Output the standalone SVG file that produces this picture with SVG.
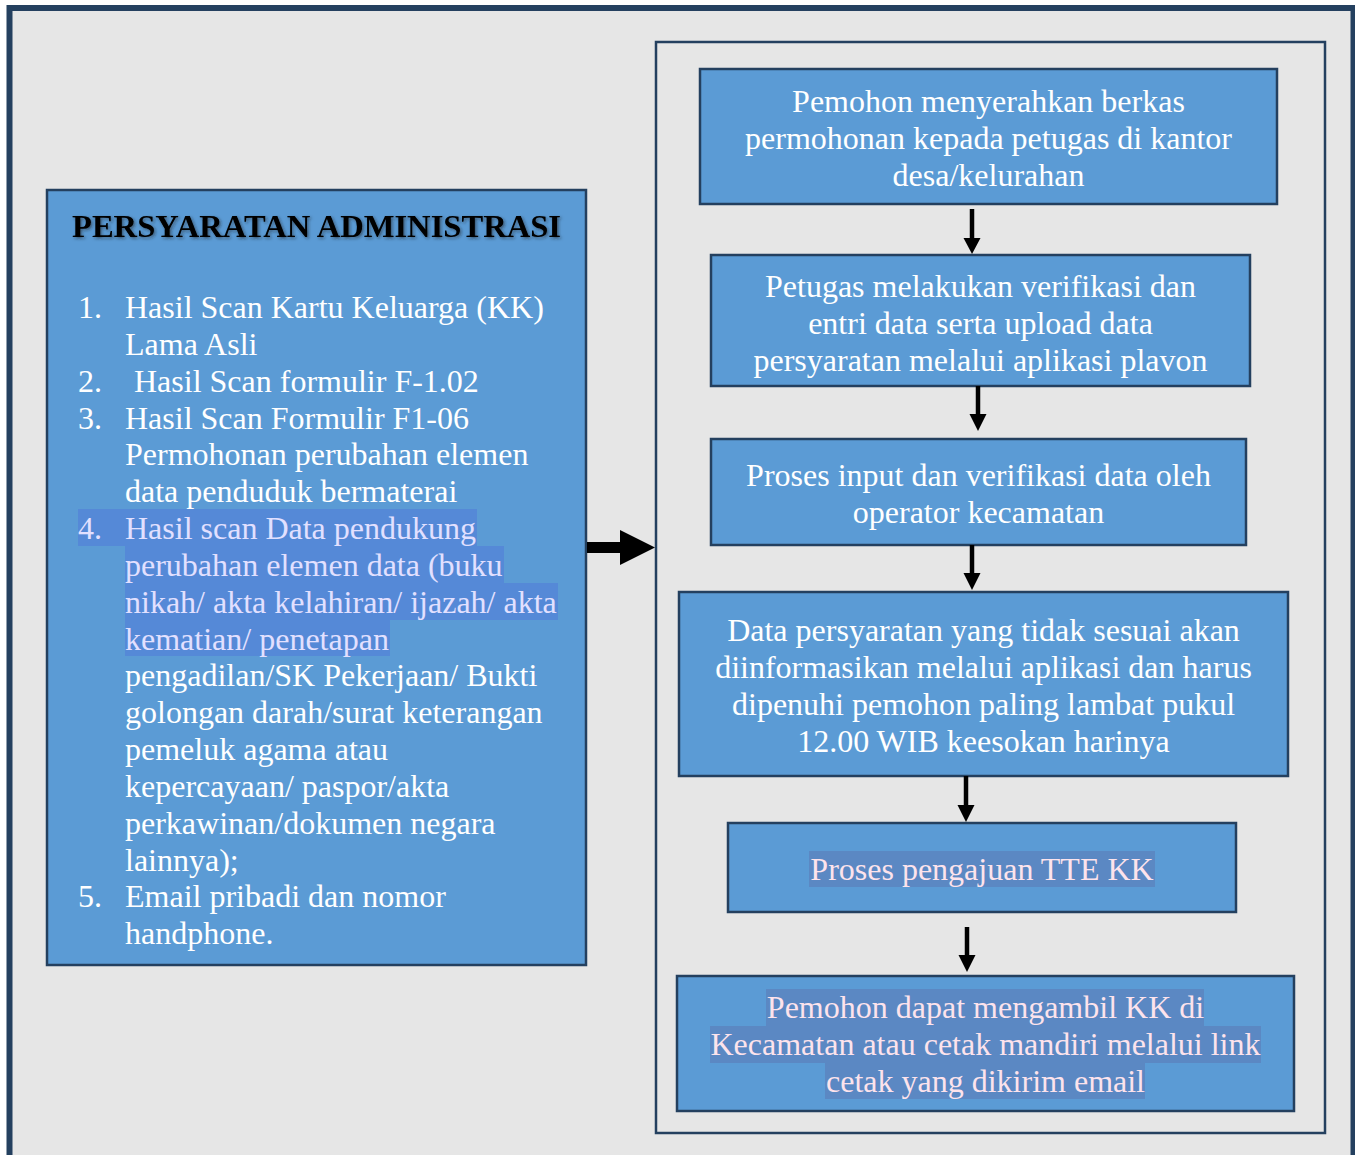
<svg xmlns="http://www.w3.org/2000/svg" width="1355" height="1155" viewBox="0 0 1355 1155">
<style>
.frame{fill:#e6e6e6;stroke:#24405f;stroke-width:6}
.panel{fill:none;stroke:#24405f;stroke-width:2.5}
.box{fill:#5b9bd5;stroke:#24405f;stroke-width:2.5}
text{font-family:"Liberation Serif","Times New Roman",serif;font-size:32px}
.w{fill:#ffffff}
.c{text-anchor:middle}
.t{font-weight:bold;fill:#000000}
.hl{fill:#5589d7}
.hlt{fill:#e2e0ff}
.hr{fill:#5b88c3}
.hrt{fill:#fde3ec}
.conn line{stroke:#000;stroke-width:4.5}
.conn polygon{fill:#000}
</style>
<defs>
<filter id="shadow" x="-5%" y="-30%" width="110%" height="160%">
<feDropShadow dx="1.5" dy="1.5" stdDeviation="1.5" flood-color="#1a1a1a" flood-opacity="0.55"/>
</filter>
</defs>
<rect x="0" y="0" width="1355" height="1155" fill="#ffffff"/>
<rect class="frame" x="9.5" y="8" width="1344" height="1170"/>
<rect class="panel" x="656" y="42" width="669" height="1091"/>

<g id="persyaratan">
<rect class="box" x="47" y="190" width="539" height="775"/>
<text class="t" x="72" y="237" textLength="489" lengthAdjust="spacingAndGlyphs" filter="url(#shadow)">PERSYARATAN ADMINISTRASI</text>
<rect class="hl" x="78" y="509" width="399" height="37"/>
<rect class="hl" x="125" y="546" width="379" height="37"/>
<rect class="hl" x="125" y="583" width="433" height="37"/>
<rect class="hl" x="125" y="620" width="265" height="36"/>
<g class="w">
<text x="78" y="318">1.</text><text x="125" y="318">Hasil Scan Kartu Keluarga (KK)</text>
<text x="125" y="355">Lama Asli</text>
<text x="78" y="392">2.</text><text x="134" y="392">Hasil Scan formulir F-1.02</text>
<text x="78" y="429">3.</text><text x="125" y="429">Hasil Scan Formulir F1-06</text>
<text x="125" y="465">Permohonan perubahan elemen</text>
<text x="125" y="502">data penduduk bermaterai</text>
</g>
<g class="hlt">
<text x="78" y="539">4.</text><text x="125" y="539">Hasil scan Data pendukung</text>
<text x="125" y="576">perubahan elemen data (buku</text>
<text x="125" y="613">nikah/ akta kelahiran/ ijazah/ akta</text>
<text x="125" y="650">kematian/ penetapan</text>
</g>
<g class="w">
<text x="125" y="686">pengadilan/SK Pekerjaan/ Bukti</text>
<text x="125" y="723">golongan darah/surat keterangan</text>
<text x="125" y="760">pemeluk agama atau</text>
<text x="125" y="797">kepercayaan/ paspor/akta</text>
<text x="125" y="834">perkawinan/dokumen negara</text>
<text x="125" y="871">lainnya);</text>
<text x="78" y="907">5.</text><text x="125" y="907">Email pribadi dan nomor</text>
<text x="125" y="944">handphone.</text>
</g>
</g>

<g id="step1">
<rect class="box" x="700" y="69" width="577" height="135"/>
<g class="w c">
<text x="988.5" y="112">Pemohon menyerahkan berkas</text>
<text x="988.5" y="149">permohonan kepada petugas di kantor</text>
<text x="988.5" y="186">desa/kelurahan</text>
</g>
</g>

<g id="step2">
<rect class="box" x="711" y="255" width="539" height="131"/>
<g class="w c">
<text x="980.5" y="297">Petugas melakukan verifikasi dan</text>
<text x="980.5" y="334">entri data serta upload data</text>
<text x="980.5" y="371">persyaratan melalui aplikasi plavon</text>
</g>
</g>

<g id="step3">
<rect class="box" x="711" y="439" width="535" height="106"/>
<g class="w c">
<text x="978.5" y="486">Proses input dan verifikasi data oleh</text>
<text x="978.5" y="523">operator kecamatan</text>
</g>
</g>

<g id="step4">
<rect class="box" x="679" y="592" width="609" height="184"/>
<g class="w c">
<text x="983.5" y="641">Data persyaratan yang tidak sesuai akan</text>
<text x="983.5" y="678">diinformasikan melalui aplikasi dan harus</text>
<text x="983.5" y="715">dipenuhi pemohon paling lambat pukul</text>
<text x="983.5" y="752">12.00 WIB keesokan harinya</text>
</g>
</g>

<g id="step5">
<rect class="box" x="728" y="823" width="508" height="89"/>
<rect class="hr" x="809" y="851" width="346" height="36"/>
<text class="hrt c" x="982" y="880">Proses pengajuan TTE KK</text>
</g>

<g id="step6">
<rect class="box" x="677" y="976" width="617" height="135"/>
<rect class="hr" x="766" y="989" width="438" height="37"/>
<rect class="hr" x="710" y="1026" width="551" height="37"/>
<rect class="hr" x="825" y="1063" width="320" height="36"/>
<g class="hrt c">
<text x="985.5" y="1018">Pemohon dapat mengambil KK di</text>
<text x="985.5" y="1055">Kecamatan atau cetak mandiri melalui link</text>
<text x="985.5" y="1092">cetak yang dikirim email</text>
</g>
</g>

<g id="connectors" class="conn">
<polygon points="587,542 620,542 620,530 655,547.5 620,565 620,553 587,553"/>
<line x1="972" y1="209" x2="972" y2="239"/>
<polygon points="963.5,238 980.5,238 972,254"/>
<line x1="978" y1="386" x2="978" y2="415"/>
<polygon points="969.5,414 986.5,414 978,431"/>
<line x1="972" y1="545" x2="972" y2="574"/>
<polygon points="963.5,573 980.5,573 972,590"/>
<line x1="966" y1="776" x2="966" y2="806"/>
<polygon points="957.5,805 974.5,805 966,822"/>
<line x1="967" y1="927" x2="967" y2="956"/>
<polygon points="958.5,955 975.5,955 967,972"/>
</g>
</svg>
